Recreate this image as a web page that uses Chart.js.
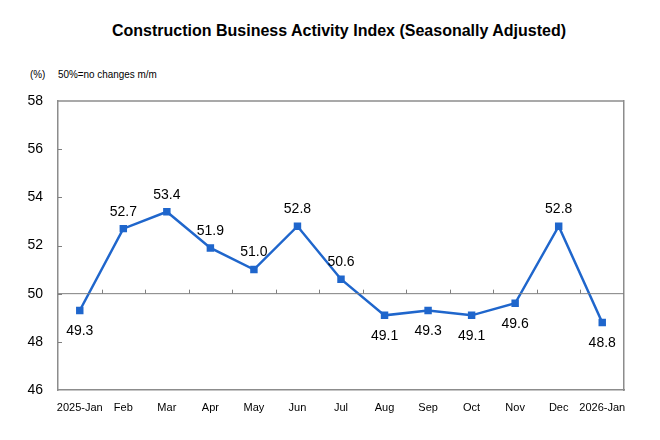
<!DOCTYPE html>
<html>
<head>
<meta charset="utf-8">
<script src="https://cdn.jsdelivr.net/npm/chart.js@4"></script>
<style>
  body { margin: 0; background: #fff; font-family: "Liberation Sans", Arial, sans-serif; }
  #wrap { position: relative; width: 660px; height: 440px; }
  #title { position: absolute; top: 22px; left: 0; width: 678px; text-align: center; font-weight: bold; font-size: 16px; color: #000; }
  #unit { position: absolute; top: 68px; left: 30px; font-size: 11px; color: #000; transform: scaleX(0.9); transform-origin: left; }
  #note { position: absolute; top: 68px; left: 58px; font-size: 11px; color: #000; transform: scaleX(0.9); transform-origin: left; }
  canvas { position: absolute; left: 0; top: 0; }
</style>
</head>
<body>
<div id="wrap">
  <div id="title">Construction Business Activity Index (Seasonally Adjusted)</div>
  <div id="unit">(%)</div>
  <div id="note">50%=no changes m/m</div>
  <canvas id="chart" width="660" height="440"></canvas>
</div>
<script>
// chart data
const categories = ["2025-Jan", "Feb", "Mar", "Apr", "May", "Jun", "Jul", "Aug", "Sep", "Oct", "Nov", "Dec", "2026-Jan"];
const indexValues = [49.3, 52.7, 53.4, 51.9, 51.0, 52.8, 50.6, 49.1, 49.3, 49.1, 49.6, 52.8, 48.8];
const yMin = 46;
const yMax = 58;
const yStep = 2;
const baseline = 50;

// draws the 50 line, its tick marks, y ticks and value labels
const extras = {
  id: "extras",
  afterDatasetsDraw(chart) {
    const { ctx, chartArea, scales } = chart;
    const x = scales.x, y = scales.y;
    const y50 = y.getPixelForValue(baseline);
    ctx.save();
    ctx.strokeStyle = "#7f7f7f";
    ctx.lineWidth = 1;
    ctx.beginPath();
    ctx.moveTo(chartArea.left, y50);
    ctx.lineTo(chartArea.right, y50);
    const step = x.getPixelForValue(1) - x.getPixelForValue(0);
    for (let i = 1; i < categories.length; i++) {
      const px = Math.round(x.getPixelForValue(i) - step / 2) + 0.5;
      ctx.moveTo(px, y50);
      ctx.lineTo(px, y50 - 4);
    }
    for (let v = yMin + yStep; v < yMax; v += yStep) {
      const py = Math.round(y.getPixelForValue(v)) + 0.5;
      ctx.moveTo(chartArea.left, py);
      ctx.lineTo(chartArea.left + 4, py);
    }
    ctx.stroke();

    ctx.fillStyle = "#000";
    ctx.font = "14px 'Liberation Sans', Arial, sans-serif";
    ctx.textAlign = "center";
    ctx.textBaseline = "middle";
    const meta = chart.getDatasetMeta(0);
    meta.data.forEach((pt, i) => {
      const v = indexValues[i];
      const dy = v >= baseline ? -17 : 21;
      ctx.fillText(v.toFixed(1), pt.x, pt.y + dy);
    });
    ctx.restore();
  }
};

new Chart(document.getElementById("chart"), {
  type: "line",
  data: {
    labels: categories,
    datasets: [{
      data: indexValues,
      borderColor: "#1f66cc",
      backgroundColor: "#1f66cc",
      borderWidth: 2.5,
      pointStyle: "rect",
      pointRadius: 3.5,
      pointHoverRadius: 3.5,
      tension: 0
    }]
  },
  options: {
    responsive: false,
    animation: false,
    layout: { padding: { top: 101, right: 36, left: 0, bottom: 0 } },
    plugins: { legend: { display: false }, tooltip: { enabled: false } },
    scales: {
      x: {
        offset: true,
        grid: { display: false },
        border: { color: "#8c8c8c", width: 1.5 },
        ticks: {
          color: "#000",
          padding: 3,
          maxRotation: 0,
          autoSkip: false,
          font: { family: "'Liberation Sans', Arial, sans-serif", size: 11 }
        },
        afterFit(scale) { scale.height = 50; }
      },
      y: {
        min: yMin,
        max: yMax,
        grid: { display: false },
        border: { color: "#8c8c8c", width: 1.5 },
        ticks: {
          stepSize: yStep,
          color: "#000",
          padding: 7,
          font: { family: "'Liberation Sans', Arial, sans-serif", size: 14 }
        },
        afterFit(scale) { scale.width = 58; }
      },
      y2: {
        position: "right",
        min: yMin,
        max: yMax,
        grid: { display: false },
        border: { color: "#8c8c8c", width: 1.5 },
        ticks: { display: false },
        afterFit(scale) { scale.width = 0; }
      }
    }
  },
  plugins: [extras, {
    id: "topBorder",
    afterDraw(chart) {
      const { ctx, chartArea } = chart;
      ctx.save();
      ctx.strokeStyle = "#8c8c8c";
      ctx.lineWidth = 1.5;
      ctx.beginPath();
      ctx.moveTo(chartArea.left, chartArea.top);
      ctx.lineTo(chartArea.right, chartArea.top);
      ctx.stroke();
      ctx.restore();
    }
  }]
});
</script>
</body>
</html>
